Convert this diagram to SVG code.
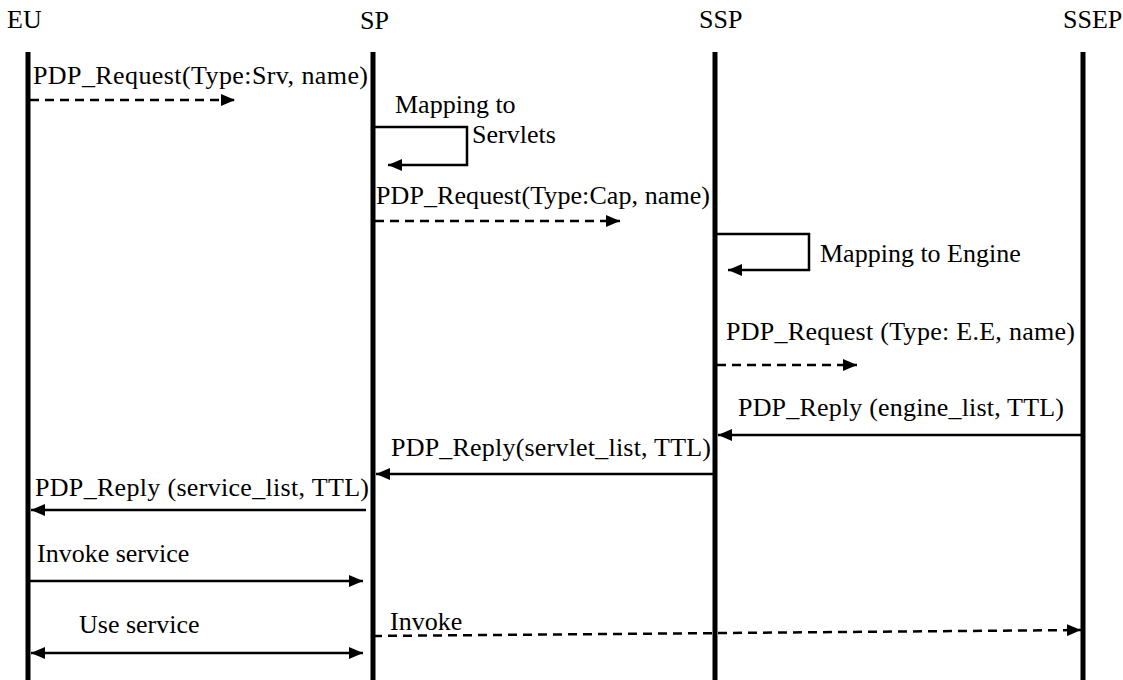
<svg xmlns="http://www.w3.org/2000/svg" width="1123" height="680" viewBox="0 0 1123 680" font-family="'Liberation Serif', 'DejaVu Serif', serif">
  <style>
    text { font-family: "Liberation Serif", "DejaVu Serif", serif; font-size: 26px; fill: #000; }
    .life { stroke: #000; stroke-width: 5; }
    .msg { stroke: #000; stroke-width: 2.5; fill: none; }
    .dash { stroke-dasharray: 9 6; }
  </style>
  <defs>
    <marker id="arrowL" viewBox="0 0 14 12" refX="14" refY="6" markerWidth="14" markerHeight="12" markerUnits="userSpaceOnUse" orient="auto-start-reverse">
      <path d="M0,0 L14,6 L0,12 z" fill="#000"/>
    </marker>
  </defs>

  <!-- participants -->
  <g id="EU">
    <text x="7" y="28">EU</text>
    <line class="life" x1="28" y1="52" x2="28" y2="680"/>
  </g>
  <g id="SP">
    <text x="360" y="29">SP</text>
    <line class="life" x1="373" y1="52" x2="373" y2="680"/>
  </g>
  <g id="SSP">
    <text x="699" y="28">SSP</text>
    <line class="life" x1="715" y1="52" x2="715" y2="680"/>
  </g>
  <g id="SSEP">
    <text x="1063" y="28">SSEP</text>
    <line class="life" x1="1083" y1="52" x2="1083" y2="680"/>
  </g>

  <!-- messages -->
  <g id="connectors">
    <line class="msg dash" x1="30" y1="100" x2="235" y2="100" marker-end="url(#arrowL)"/>
    <polyline class="msg" points="375,127 467,127 467,165 388,165" marker-end="url(#arrowL)"/>
    <line class="msg dash" x1="375" y1="221" x2="620" y2="221" marker-end="url(#arrowL)"/>
    <polyline class="msg" points="717,234 809,234 809,270 728,270" marker-end="url(#arrowL)"/>
    <line class="msg dash" x1="717" y1="365" x2="857" y2="365" marker-end="url(#arrowL)"/>
    <line class="msg" x1="1081" y1="435" x2="718" y2="435" marker-end="url(#arrowL)"/>
    <line class="msg" x1="713" y1="474" x2="376" y2="474" marker-end="url(#arrowL)"/>
    <line class="msg" x1="366" y1="510" x2="31" y2="510" marker-end="url(#arrowL)"/>
    <line class="msg" x1="30" y1="581" x2="363" y2="581" marker-end="url(#arrowL)"/>
    <line class="msg" x1="31" y1="653" x2="363" y2="653" marker-start="url(#arrowL)" marker-end="url(#arrowL)"/>
    <line class="msg dash" x1="373" y1="636" x2="1081" y2="630" marker-end="url(#arrowL)"/>
  </g>

  <!-- labels -->
  <g id="labels">
    <text x="33" y="84" textLength="335">PDP_Request(Type:Srv, name)</text>
    <text x="395" y="113">Mapping to</text>
    <text x="472" y="143">Servlets</text>
    <text x="376" y="204" textLength="334">PDP_Request(Type:Cap, name)</text>
    <text x="820" y="262">Mapping to Engine</text>
    <text x="726" y="340" textLength="349">PDP_Request (Type: E.E, name)</text>
    <text x="738" y="416" textLength="326">PDP_Reply (engine_list, TTL)</text>
    <text x="391" y="456" textLength="320">PDP_Reply(servlet_list, TTL)</text>
    <text x="35" y="496" textLength="334">PDP_Reply (service_list, TTL)</text>
    <text x="37" y="562">Invoke service</text>
    <text x="79" y="633">Use service</text>
    <text x="390" y="630">Invoke</text>
  </g>
</svg>
